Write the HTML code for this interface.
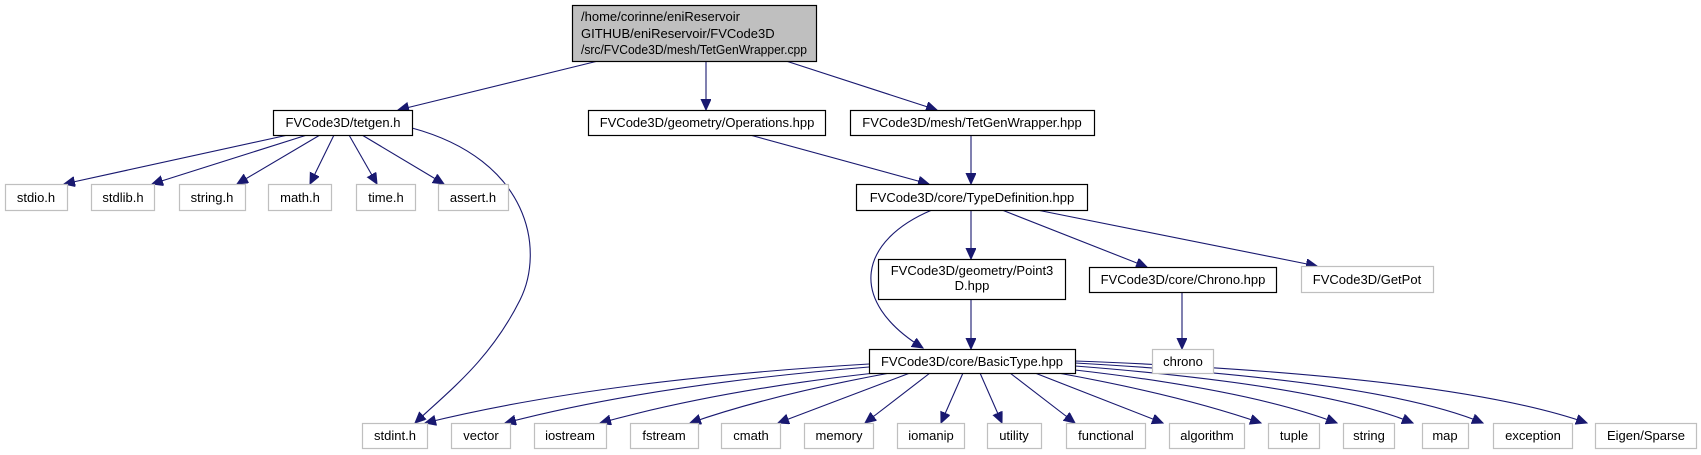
<!DOCTYPE html>
<html><head><meta charset="utf-8"><style>
html,body{margin:0;padding:0;background:#fff;}
svg{display:block;}
text{font-family:"Liberation Sans",Helvetica,Arial,sans-serif;font-size:13px;fill:#000;}
</style></head><body>
<svg width="1701" height="455" viewBox="0 0 1701 455" xmlns="http://www.w3.org/2000/svg">
<defs>
<marker id="a" markerUnits="userSpaceOnUse" markerWidth="14" markerHeight="12" refX="11" refY="5" orient="auto">
<path d="M0,0 L11,5 L0,10 Z" fill="#191970" stroke="#191970"/>
</marker>
</defs>
<g fill="none" stroke="#191970" stroke-width="1.1" marker-end="url(#a)">
<line x1="598" y1="61" x2="398" y2="110"/>
<line x1="706" y1="61" x2="706" y2="110"/>
<line x1="786" y1="61" x2="937" y2="110"/>
<line x1="750" y1="135" x2="929" y2="184"/>
<line x1="971" y1="135" x2="971" y2="184"/>
<line x1="971" y1="210" x2="971" y2="259"/>
<line x1="1002" y1="210" x2="1147" y2="267"/>
<line x1="1037" y1="210" x2="1317" y2="266"/>
<line x1="971" y1="299" x2="971" y2="349"/>
<line x1="1182" y1="292" x2="1182" y2="349"/>
<path d="M932,210 C860,240 845,300 923,348"/>
<line x1="288" y1="135" x2="64" y2="184"/>
<line x1="307" y1="135" x2="152" y2="184"/>
<line x1="320" y1="135" x2="237" y2="184"/>
<line x1="334" y1="135" x2="310" y2="184"/>
<line x1="349" y1="135" x2="377" y2="184"/>
<line x1="362" y1="135" x2="444" y2="184"/>
<path d="M412,128 C530,160 545,250 520,300 C490,360 450,390 415,423"/>
<path d="M869,364 Q600,380 425,423"/>
<path d="M869,367 Q650,385 505,423"/>
<path d="M875,373 Q720,390 600,423"/>
<path d="M890,373 Q770,395 690,423"/>
<line x1="910" y1="373" x2="778" y2="423"/>
<line x1="930" y1="373" x2="865" y2="423"/>
<line x1="963" y1="373" x2="941" y2="423"/>
<line x1="980" y1="373" x2="1002" y2="423"/>
<line x1="1010" y1="373" x2="1075" y2="423"/>
<line x1="1035" y1="373" x2="1163" y2="423"/>
<path d="M1058,373 Q1180,395 1261,423"/>
<path d="M1075,370 Q1250,390 1337,423"/>
<path d="M1075,366 Q1320,385 1413,423"/>
<path d="M1075,363 Q1380,380 1483,423"/>
<path d="M1075,361 Q1450,375 1587,423"/>
</g>
<g stroke-width="1.2">
<rect x="572.5" y="5.5" width="244" height="56" fill="#bfbfbf" stroke="#000"/>
<rect x="273.5" y="110.5" width="139" height="25" fill="#fff" stroke="#000"/>
<rect x="588.5" y="110.5" width="237" height="25" fill="#fff" stroke="#000"/>
<rect x="850.5" y="110.5" width="244" height="25" fill="#fff" stroke="#000"/>
<rect x="856.5" y="184.5" width="231" height="26" fill="#fff" stroke="#000"/>
<rect x="878.5" y="259.5" width="187" height="40" fill="#fff" stroke="#000"/>
<rect x="1089.5" y="267.5" width="187" height="25" fill="#fff" stroke="#000"/>
<rect x="869.5" y="349.5" width="206" height="24" fill="#fff" stroke="#000"/>
</g>
<g fill="#fff" stroke="#bfbfbf" stroke-width="1.2">
<rect x="5.5" y="184.5" width="62" height="26"/>
<rect x="91.5" y="184.5" width="63" height="26"/>
<rect x="179.5" y="184.5" width="66" height="26"/>
<rect x="268.5" y="184.5" width="63" height="26"/>
<rect x="356.5" y="184.5" width="59" height="26"/>
<rect x="438.5" y="184.5" width="70" height="26"/>
<rect x="1301.5" y="266.5" width="132" height="26"/>
<rect x="1152.5" y="349.5" width="61" height="24"/>
<rect x="362.5" y="423.5" width="65" height="25"/>
<rect x="451.5" y="423.5" width="59" height="25"/>
<rect x="534.5" y="423.5" width="72" height="25"/>
<rect x="630.5" y="423.5" width="68" height="25"/>
<rect x="721.5" y="423.5" width="59" height="25"/>
<rect x="804.5" y="423.5" width="69" height="25"/>
<rect x="897.5" y="423.5" width="67" height="25"/>
<rect x="987.5" y="423.5" width="54" height="25"/>
<rect x="1066.5" y="423.5" width="79" height="25"/>
<rect x="1169.5" y="423.5" width="75" height="25"/>
<rect x="1268.5" y="423.5" width="51" height="25"/>
<rect x="1343.5" y="423.5" width="51" height="25"/>
<rect x="1422.5" y="423.5" width="46" height="25"/>
<rect x="1493.5" y="423.5" width="79" height="25"/>
<rect x="1595.5" y="423.5" width="101" height="25"/>
</g>
<text x="581" y="21">/home/corinne/eniReservoir</text>
<text x="581" y="38">GITHUB/eniReservoir/FVCode3D</text>
<text x="581" y="54" textLength="226" lengthAdjust="spacingAndGlyphs">/src/FVCode3D/mesh/TetGenWrapper.cpp</text>
<g text-anchor="middle">
<text x="343" y="127">FVCode3D/tetgen.h</text>
<text x="707" y="127">FVCode3D/geometry/Operations.hpp</text>
<text x="972" y="127">FVCode3D/mesh/TetGenWrapper.hpp</text>
<text x="972" y="202">FVCode3D/core/TypeDefinition.hpp</text>
<text x="972" y="275">FVCode3D/geometry/Point3</text>
<text x="972" y="290">D.hpp</text>
<text x="1183" y="284">FVCode3D/core/Chrono.hpp</text>
<text x="1367" y="284">FVCode3D/GetPot</text>
<text x="972" y="366">FVCode3D/core/BasicType.hpp</text>
<text x="1183" y="366">chrono</text>
<text x="36" y="202">stdio.h</text>
<text x="123" y="202">stdlib.h</text>
<text x="212" y="202">string.h</text>
<text x="300" y="202">math.h</text>
<text x="386" y="202">time.h</text>
<text x="473" y="202">assert.h</text>
<text x="395" y="440">stdint.h</text>
<text x="481" y="440">vector</text>
<text x="570" y="440">iostream</text>
<text x="664" y="440">fstream</text>
<text x="751" y="440">cmath</text>
<text x="839" y="440">memory</text>
<text x="931" y="440">iomanip</text>
<text x="1014" y="440">utility</text>
<text x="1106" y="440">functional</text>
<text x="1207" y="440">algorithm</text>
<text x="1294" y="440">tuple</text>
<text x="1369" y="440">string</text>
<text x="1445" y="440">map</text>
<text x="1533" y="440">exception</text>
<text x="1646" y="440">Eigen/Sparse</text>
</g>
</svg>
</body></html>
